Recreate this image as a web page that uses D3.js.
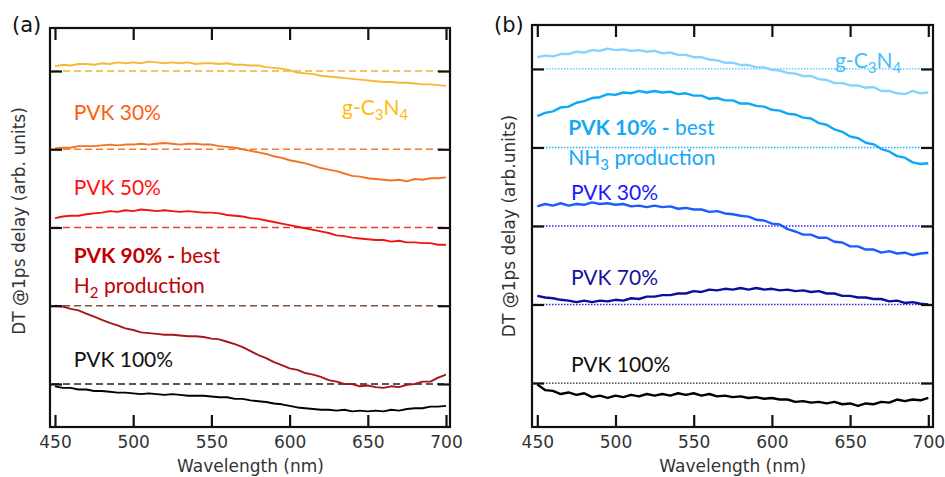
<!DOCTYPE html>
<html>
<head>
<meta charset="utf-8">
<script src="https://cdn.jsdelivr.net/npm/d3@7"></script>
<style>
body { margin: 0; background: #fff; }
</style>
</head>
<body>
<script>
// wavelength grid (nm), values read every 5 nm
var wavelength = d3.range(450, 701, 5);
var xTicks = [450, 500, 550, 600, 650, 700];

// panel (a) - DT at 1 ps, offsets from each dashed baseline (arb. units)
var offsetsA = [4, 3, 2, 1, 0];
var gcnA = [0.06,0.08,0.07,0.09,0.09,0.08,0.10,0.09,0.11,0.10,0.11,0.10,0.12,0.11,0.10,0.11,0.10,0.11,0.09,0.10,0.10,0.09,0.10,0.08,0.08,0.07,0.07,0.05,0.04,0.03,0.01,-0.02,-0.03,-0.04,-0.06,-0.07,-0.08,-0.09,-0.10,-0.11,-0.12,-0.13,-0.14,-0.14,-0.15,-0.15,-0.16,-0.17,-0.17,-0.18,-0.19];
var pvk30A = [0.01,0.02,0.02,0.04,0.04,0.04,0.05,0.06,0.05,0.06,0.06,0.07,0.06,0.07,0.08,0.07,0.06,0.07,0.07,0.06,0.06,0.04,0.03,0.02,0.00,-0.02,-0.04,-0.06,-0.09,-0.11,-0.14,-0.16,-0.18,-0.21,-0.24,-0.26,-0.28,-0.31,-0.34,-0.35,-0.37,-0.38,-0.39,-0.40,-0.39,-0.41,-0.38,-0.39,-0.37,-0.37,-0.36];
var pvk50A = [0.12,0.14,0.15,0.15,0.17,0.18,0.19,0.21,0.20,0.22,0.21,0.23,0.22,0.21,0.22,0.21,0.20,0.21,0.20,0.19,0.19,0.18,0.16,0.15,0.14,0.12,0.11,0.09,0.07,0.05,0.03,0.01,-0.01,-0.03,-0.05,-0.07,-0.10,-0.11,-0.13,-0.14,-0.15,-0.16,-0.16,-0.18,-0.17,-0.19,-0.19,-0.20,-0.20,-0.22,-0.22];
var pvk90A = [0.00,-0.01,-0.04,-0.06,-0.10,-0.14,-0.18,-0.22,-0.25,-0.29,-0.31,-0.34,-0.35,-0.36,-0.37,-0.37,-0.38,-0.39,-0.39,-0.40,-0.42,-0.43,-0.46,-0.49,-0.53,-0.58,-0.63,-0.67,-0.72,-0.76,-0.80,-0.82,-0.86,-0.88,-0.91,-0.95,-0.97,-1.00,-1.00,-1.03,-1.02,-1.04,-1.05,-1.03,-1.04,-1.01,-1.00,-0.97,-0.97,-0.92,-0.88];
var pvk100A = [-0.03,-0.05,-0.05,-0.07,-0.07,-0.09,-0.09,-0.10,-0.11,-0.11,-0.12,-0.13,-0.12,-0.13,-0.14,-0.13,-0.14,-0.15,-0.15,-0.15,-0.16,-0.17,-0.17,-0.19,-0.19,-0.21,-0.22,-0.23,-0.25,-0.26,-0.28,-0.30,-0.31,-0.32,-0.33,-0.33,-0.34,-0.33,-0.35,-0.34,-0.35,-0.34,-0.35,-0.33,-0.34,-0.32,-0.31,-0.31,-0.29,-0.29,-0.28];
var colorsA = ["#f7b83a", "#f27320", "#ee1515", "#a51616", "#000000"];
var baseColorsA = ["#f2b13a", "#f47a36", "#ee3a3a", "#7a5645", "#222222"];

// panel (b)
var offsetsB = [4, 3, 2, 1, 0];
var gcnB = [0.15,0.17,0.16,0.19,0.19,0.22,0.21,0.24,0.23,0.26,0.24,0.25,0.23,0.24,0.22,0.23,0.20,0.21,0.18,0.18,0.15,0.15,0.12,0.11,0.08,0.08,0.05,0.05,0.02,0.02,-0.01,-0.02,-0.05,-0.06,-0.09,-0.09,-0.13,-0.14,-0.18,-0.18,-0.21,-0.21,-0.24,-0.23,-0.28,-0.28,-0.31,-0.32,-0.28,-0.31,-0.30];
var pvk10B = [0.40,0.44,0.46,0.51,0.52,0.57,0.59,0.63,0.64,0.68,0.67,0.70,0.69,0.72,0.70,0.72,0.70,0.71,0.68,0.69,0.66,0.66,0.62,0.63,0.60,0.60,0.56,0.56,0.53,0.52,0.48,0.47,0.43,0.42,0.38,0.37,0.31,0.29,0.23,0.20,0.14,0.12,0.06,0.04,-0.02,-0.05,-0.11,-0.13,-0.19,-0.21,-0.20];
var pvk30B = [0.25,0.28,0.26,0.29,0.26,0.28,0.27,0.30,0.28,0.29,0.27,0.28,0.25,0.26,0.24,0.26,0.24,0.25,0.22,0.23,0.21,0.21,0.18,0.19,0.16,0.15,0.13,0.12,0.08,0.07,0.03,0.02,-0.04,-0.07,-0.11,-0.11,-0.15,-0.15,-0.20,-0.21,-0.26,-0.26,-0.30,-0.30,-0.34,-0.32,-0.35,-0.34,-0.37,-0.35,-0.34];
var pvk70B = [0.11,0.09,0.08,0.06,0.05,0.03,0.05,0.03,0.05,0.04,0.06,0.05,0.08,0.07,0.10,0.10,0.12,0.12,0.14,0.14,0.17,0.16,0.19,0.18,0.20,0.19,0.21,0.19,0.21,0.19,0.20,0.18,0.19,0.17,0.18,0.16,0.17,0.14,0.14,0.11,0.11,0.09,0.09,0.07,0.07,0.04,0.05,0.02,0.03,0.01,0.00];
var pvk100B = [-0.02,-0.09,-0.10,-0.14,-0.12,-0.15,-0.13,-0.18,-0.16,-0.19,-0.16,-0.18,-0.15,-0.17,-0.14,-0.16,-0.14,-0.16,-0.13,-0.15,-0.13,-0.16,-0.14,-0.17,-0.16,-0.18,-0.17,-0.19,-0.18,-0.20,-0.19,-0.21,-0.21,-0.24,-0.23,-0.25,-0.24,-0.26,-0.24,-0.27,-0.26,-0.29,-0.26,-0.27,-0.24,-0.25,-0.21,-0.23,-0.21,-0.22,-0.19];
var colorsB = ["#86d3fd", "#0da8f7", "#1b5cff", "#0e0e9c", "#000000"];
var baseColorsB = ["#4cc0ff", "#22b0ff", "#2a2aff", "#2a2ad0", "#222222"];

var w = 945;
var h = 477;

var svg = d3.select("body")
	.append("svg")
	.attr("width", w)
	.attr("height", h)
	.attr("font-family", "'DejaVu Sans', Verdana, sans-serif");

var lbl = "Lato, 'Open Sans', sans-serif";

function drawPanel(p) {
	var g = svg.append("g");
	var x = d3.scaleLinear().domain([450, 700]).range([p.x0, p.x1]);
	var y = d3.scaleLinear().domain(p.yDomain).range([p.bottom, p.top]);

	// baselines
	g.selectAll("line.base")
		.data(p.offsets)
		.enter()
		.append("line")
		.attr("x1", p.left + 2)
		.attr("x2", p.right - 2)
		.attr("y1", function(d) { return y(d); })
		.attr("y2", function(d) { return y(d); })
		.attr("stroke", function(d, i) { return p.baseColors[i]; })
		.attr("stroke-width", p.baseWidth)
		.attr("stroke-dasharray", p.dash);

	var line = d3.line()
		.x(function(d, i) { return x(wavelength[i]); });

	g.selectAll("path.trace")
		.data(p.series)
		.enter()
		.append("path")
		.attr("fill", "none")
		.attr("stroke", function(d, i) { return p.colors[i]; })
		.attr("stroke-width", p.lineWidth)
		.attr("stroke-linejoin", "round")
		.attr("d", function(s, k) {
			return line.y(function(v) { return y(v + p.offsets[k]); })(s);
		});

	// axes, ticks pointing inward
	var bottom = g.append("g")
		.attr("transform", "translate(0," + p.bottom + ")")
		.call(d3.axisBottom(x).tickValues(xTicks).tickSize(-12).tickPadding(9));
	var top = g.append("g")
		.attr("transform", "translate(0," + p.top + ")")
		.call(d3.axisTop(x).tickValues(xTicks).tickSize(-12).tickFormat(""));
	var left = g.append("g")
		.attr("transform", "translate(" + p.left + ",0)")
		.call(d3.axisLeft(y).tickValues(p.offsets).tickSize(-12).tickFormat(""));
	var right = g.append("g")
		.attr("transform", "translate(" + p.right + ",0)")
		.call(d3.axisRight(y).tickValues(p.offsets).tickSize(-12).tickFormat(""));

	[bottom, top, left, right].forEach(function(a) {
		a.select(".domain").remove();
		a.selectAll("line").attr("stroke", "#111").attr("stroke-width", 2.2);
	});
	bottom.attr("font-size", 17)
		.attr("font-family", "'DejaVu Sans', Verdana, sans-serif");
	bottom.selectAll("text").attr("fill", "#333");

	g.append("rect")
		.attr("x", p.left)
		.attr("y", p.top)
		.attr("width", p.right - p.left)
		.attr("height", p.bottom - p.top)
		.attr("fill", "none")
		.attr("stroke", "#111")
		.attr("stroke-width", 2.2);

	g.append("text")
		.text("Wavelength (nm)")
		.attr("x", (p.x0 + p.x1) / 2)
		.attr("y", 472)
		.attr("text-anchor", "middle")
		.attr("font-size", 17)
		.attr("fill", "#333");

	g.append("text")
		.text(p.yTitle)
		.attr("transform", "translate(" + p.yTitleX + "," + p.yTitleY + ") rotate(-90)")
		.attr("text-anchor", "middle")
		.attr("font-size", 17)
		.attr("fill", "#333");

	g.append("text")
		.text(p.tag)
		.attr("x", p.tagX)
		.attr("y", 32)
		.attr("font-size", 21)
		.attr("fill", "#111");

	// curve labels, pieces: [text, bold, subscript]
	p.labels.forEach(function(l) {
		var t = g.append("text")
			.attr("x", x(l.x))
			.attr("y", y(l.y))
			.attr("font-family", lbl)
			.attr("font-size", 21)
			.attr("fill", l.color);
		var sub = false;
		l.parts.forEach(function(part) {
			var ts = t.append("tspan").text(part[0]);
			if (part[1]) ts.attr("font-weight", "bold");
			if (part[2] && !sub) { ts.attr("dy", 5).attr("font-size", 15); sub = true; }
			else if (!part[2] && sub) { ts.attr("dy", -5); sub = false; }
			else if (part[2]) ts.attr("font-size", 15);
		});
	});
}

drawPanel({
	left: 50, right: 450, top: 28, bottom: 427,
	x0: 55, x1: 446,
	yDomain: [-0.55, 4.55],
	offsets: offsetsA,
	series: [gcnA, pvk30A, pvk50A, pvk90A, pvk100A],
	colors: colorsA,
	baseColors: baseColorsA,
	dash: "7,4",
	baseWidth: 1.6,
	lineWidth: 1.9,
	yTitle: "DT @1ps delay (arb. units)",
	yTitleX: 25, yTitleY: 221,
	tag: "(a)", tagX: 12,
	labels: [
		{x: 633.5, y: 3.44, color: "#ffbb10", parts: [["g-C"], ["3", 0, 1], ["N"], ["4", 0, 1]]},
		{x: 462, y: 3.37, color: "#ff5e0e", parts: [["PVK 30%"]]},
		{x: 462, y: 2.41, color: "#ff1212", parts: [["PVK 50%"]]},
		{x: 462, y: 1.54, color: "#c00000", parts: [["PVK 90% -", 1], [" best"]]},
		{x: 462, y: 1.16, color: "#c00000", parts: [["H"], ["2", 0, 1], [" production"]]},
		{x: 462, y: 0.22, color: "#111", parts: [["PVK 100%"]]}
	]
});

drawPanel({
	left: 532, right: 933, top: 25, bottom: 427,
	x0: 537.3, x1: 928.3,
	yDomain: [-0.56, 4.56],
	offsets: offsetsB,
	series: [gcnB, pvk10B, pvk30B, pvk70B, pvk100B],
	colors: colorsB,
	baseColors: baseColorsB,
	dash: "1.5,1.5",
	baseWidth: 1.3,
	lineWidth: 2.4,
	yTitle: "DT @1ps delay (arb.units)",
	yTitleX: 515, yTitleY: 226,
	tag: "(b)", tagX: 494,
	labels: [
		{x: 640.3, y: 4.01, color: "#46bdf8", parts: [["g-C"], ["3", 0, 1], ["N"], ["4", 0, 1]]},
		{x: 469.8, y: 3.16, color: "#14a8f6", parts: [["PVK 10% -", 1], [" best"]]},
		{x: 469.8, y: 2.78, color: "#14a8f6", parts: [["NH"], ["3", 0, 1], [" production"]]},
		{x: 471.5, y: 2.33, color: "#1a1aff", parts: [["PVK 30%"]]},
		{x: 471.5, y: 1.25, color: "#14149c", parts: [["PVK 70%"]]},
		{x: 471.5, y: 0.14, color: "#111", parts: [["PVK 100%"]]}
	]
});
</script>
</body>
</html>
